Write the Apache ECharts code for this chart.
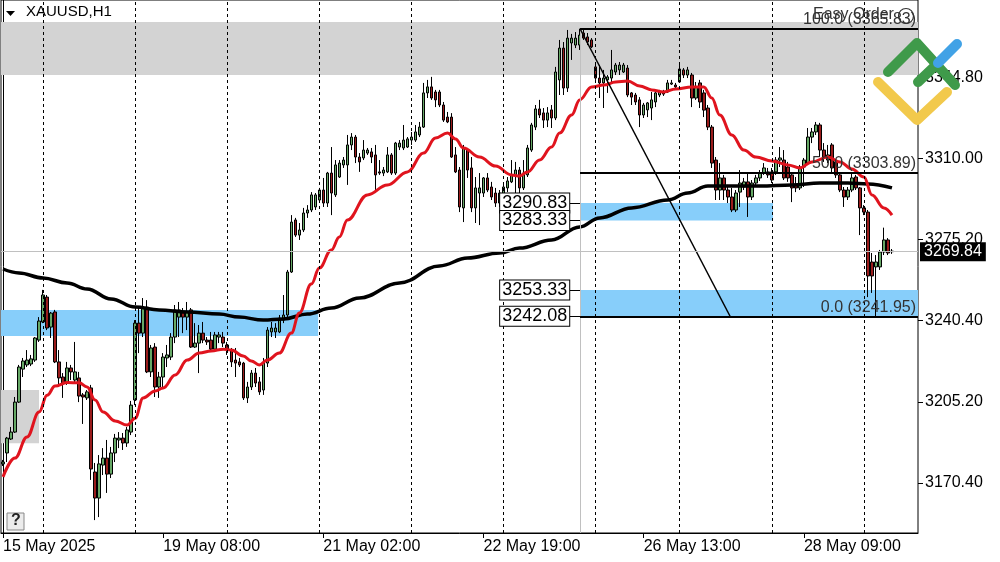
<!DOCTYPE html>
<html><head><meta charset="utf-8">
<script src="https://cdn.jsdelivr.net/npm/echarts@6/dist/echarts.min.js"></script>
<style>html,body{margin:0;padding:0;background:#fff}#c{width:1000px;height:562px}</style>
</head><body><div id="c"></div>
<script>
// ---- DATA (XAUUSD H1, [open, close, low, high]) ----
const candles = [
[3178.5,3179.3,3177.6,3180.2],[3183.2,3189.6,3179.3,3190.1],[3189.2,3192.2,3188.8,3194.4],[3192.2,3205.1,3191.8,3207.3],[3205.1,3220.2,3204.7,3221.1],
[3219.3,3222.8,3215.9,3224.1],[3221.1,3223.2,3220.2,3227.5],[3221.5,3223.7,3220.6,3225.4],[3223.2,3232.7,3222.4,3233.1],[3231.8,3240.0,3231.0,3241.7],
[3239.6,3251.2,3239.1,3253.4],[3250.3,3237.0,3236.1,3251.2],[3237.4,3243.4,3232.7,3243.9],[3243.9,3222.4,3221.9,3244.8],[3222.4,3215.5,3211.6,3227.5],
[3215.9,3213.3,3206.9,3217.6],[3213.3,3219.8,3212.5,3222.4],[3219.8,3218.1,3214.6,3221.1],[3214.6,3218.1,3213.3,3231.0],[3215.5,3207.7,3205.1,3218.1],
[3208.2,3207.3,3195.7,3209.0],[3206.9,3209.5,3206.0,3210.3],[3211.2,3176.3,3171.6,3212.5],[3175.0,3163.8,3154.3,3178.9],[3163.8,3178.5,3155.6,3182.3],
[3178.0,3181.0,3173.7,3185.3],[3181.0,3174.1,3166.0,3188.8],[3174.1,3183.2,3172.4,3185.8],[3183.2,3189.6,3179.3,3191.4],[3188.8,3189.6,3185.3,3192.2],
[3189.6,3187.5,3184.5,3191.8],[3187.5,3193.1,3185.8,3194.4],[3192.2,3203.8,3190.9,3205.6],[3206.0,3239.1,3203.8,3240.4],[3239.1,3234.8,3226.2,3245.6],
[3234.8,3245.6,3233.1,3249.9],[3246.0,3218.1,3217.6,3249.0],[3218.1,3228.4,3215.9,3229.7],[3228.8,3211.6,3207.3,3230.5],[3211.6,3215.9,3206.9,3218.1],
[3215.9,3224.5,3211.6,3226.2],[3224.1,3225.4,3220.2,3229.7],[3224.5,3233.1,3223.2,3234.8],[3233.1,3244.8,3230.5,3246.9],[3241.7,3244.8,3233.1,3248.2],
[3243.5,3241.7,3234.8,3245.6],[3241.7,3243.9,3236.1,3248.2],[3244.8,3228.8,3228.4,3245.6],[3228.8,3230.5,3228.4,3239.1],[3230.5,3234.8,3217.6,3238.3],
[3234.8,3231.8,3230.5,3239.6],[3231.8,3231.0,3229.7,3233.1],[3231.8,3227.9,3227.5,3235.3],[3227.9,3234.0,3226.7,3235.3],[3233.1,3234.0,3230.5,3235.3],
[3233.1,3230.5,3228.8,3235.3],[3229.7,3227.9,3225.4,3231.0],[3227.5,3222.4,3220.2,3228.4],[3223.2,3221.9,3215.9,3228.4],[3222.4,3221.1,3220.2,3224.1],
[3221.9,3206.9,3206.0,3222.4],[3206.9,3211.6,3204.7,3213.8],[3211.6,3217.6,3210.3,3218.9],[3217.6,3213.3,3211.6,3219.8],[3213.8,3209.5,3208.2,3215.9],
[3210.3,3221.9,3208.2,3224.1],[3221.9,3236.1,3220.2,3237.4],[3235.3,3237.0,3233.1,3239.6],[3235.3,3237.0,3232.7,3239.1],[3235.3,3241.3,3234.8,3242.6],
[3240.4,3242.6,3239.1,3251.2],[3242.6,3261.1,3241.7,3262.0],[3261.1,3282.6,3260.7,3285.6],[3283.5,3277.0,3276.2,3284.4],[3277.0,3279.2,3274.9,3282.2],
[3279.2,3286.5,3278.3,3288.7],[3286.5,3287.8,3284.4,3289.9],[3287.8,3294.3,3286.9,3295.5],[3289.1,3294.3,3287.8,3295.1],[3292.1,3296.4,3291.2,3297.3],
[3296.4,3290.8,3289.1,3301.6],[3290.8,3303.7,3289.1,3304.2],[3303.7,3295.1,3285.6,3314.9],[3294.3,3307.2,3293.4,3309.3],[3302.0,3308.0,3301.6,3309.3],
[3307.2,3309.3,3305.9,3310.6],[3307.2,3315.8,3298.6,3320.1],[3315.8,3319.2,3313.6,3320.9],[3319.2,3310.6,3308.0,3320.1],[3310.6,3308.5,3304.2,3312.3],
[3310.2,3313.6,3309.3,3317.9],[3312.3,3313.6,3311.5,3314.5],[3312.8,3310.6,3308.0,3314.5],[3311.5,3302.9,3295.1,3315.8],[3304.2,3303.7,3302.9,3309.3],
[3303.7,3305.0,3302.4,3306.3],[3304.2,3311.5,3303.7,3314.9],[3311.5,3303.7,3302.9,3312.3],[3303.7,3316.6,3302.9,3317.1],[3314.9,3316.6,3313.6,3317.9],
[3314.5,3317.9,3313.6,3324.4],[3314.9,3318.4,3314.5,3319.2],[3317.9,3319.2,3315.8,3321.4],[3317.9,3321.4,3317.1,3324.4],[3320.1,3323.5,3319.2,3325.7],
[3323.5,3338.2,3323.1,3342.5],[3338.2,3340.8,3336.0,3343.8],[3340.8,3336.0,3335.2,3345.1],[3338.6,3335.2,3332.1,3339.5],[3338.6,3333.0,3332.1,3339.5],
[3333.0,3326.5,3325.7,3334.3],[3327.8,3325.7,3325.2,3330.0],[3327.8,3310.6,3310.2,3329.5],[3311.5,3304.2,3303.7,3314.9],[3305.0,3289.1,3286.9,3306.3],
[3288.7,3314.5,3282.6,3315.8],[3313.6,3305.0,3301.6,3314.5],[3305.9,3288.7,3286.9,3310.6],[3288.7,3297.3,3282.2,3302.0],[3295.1,3297.3,3281.3,3303.7],
[3295.1,3301.6,3293.4,3302.0],[3301.6,3296.4,3295.5,3303.7],[3297.7,3293.4,3292.1,3299.9],[3295.1,3290.8,3289.1,3297.3],[3290.8,3295.1,3289.1,3296.4],
[3294.3,3297.7,3293.4,3299.4],[3297.3,3300.3,3295.5,3302.0],[3299.9,3302.9,3299.4,3309.3],[3302.9,3305.0,3286.9,3308.5],[3305.0,3297.3,3287.8,3306.3],
[3297.3,3303.7,3296.4,3309.3],[3302.9,3314.5,3302.0,3315.8],[3313.6,3324.4,3312.8,3325.3],[3323.5,3331.3,3322.2,3333.0],[3331.3,3328.7,3327.4,3335.2],
[3329.6,3326.5,3323.1,3331.7],[3326.5,3329.6,3323.5,3332.1],[3330.9,3327.4,3323.1,3333.0],[3327.4,3347.2,3326.5,3349.4],[3343.8,3357.5,3337.3,3361.0],
[3357.5,3340.3,3337.3,3360.1],[3340.3,3361.8,3338.6,3365.3],[3359.7,3361.8,3352.4,3363.6],[3358.8,3361.8,3357.5,3364.4],[3358.8,3363.1,3356.7,3365.83],
[3364.0,3361.8,3361.0,3365.7],[3362.3,3360.1,3358.8,3364.0],[3361.0,3358.0,3357.5,3361.8],[3349.4,3344.6,3343.8,3351.1],[3344.6,3342.5,3336.0,3350.2],
[3342.5,3344.6,3331.7,3348.1],[3343.8,3345.1,3338.2,3345.9],[3344.6,3348.1,3342.5,3356.7],[3347.2,3350.2,3345.9,3351.1],[3348.1,3350.2,3345.9,3351.5],
[3347.2,3350.2,3346.8,3351.1],[3348.9,3337.3,3336.4,3350.2],[3338.2,3336.4,3333.0,3338.6],[3337.3,3334.3,3333.0,3338.2],[3335.2,3328.7,3323.5,3336.4],
[3328.7,3333.0,3327.4,3333.9],[3330.9,3333.9,3327.8,3334.3],[3331.7,3335.2,3326.5,3338.6],[3334.3,3338.2,3332.1,3338.6],[3337.3,3338.6,3336.4,3339.5],
[3338.6,3337.7,3336.9,3339.5],[3338.6,3342.5,3338.2,3343.8],[3342.0,3342.5,3341.6,3343.8],[3341.6,3340.8,3340.3,3342.5],[3342.9,3348.5,3342.5,3350.2],
[3348.1,3345.9,3344.6,3348.9],[3345.9,3348.1,3344.6,3349.4],[3345.9,3336.0,3332.1,3346.8],[3336.0,3340.8,3335.2,3342.9],[3342.5,3334.3,3331.7,3343.8],
[3338.2,3330.8,3327.8,3339.5],[3331.7,3323.5,3322.2,3333.0],[3323.5,3308.0,3305.9,3324.4],[3309.3,3296.4,3292.1,3310.6],[3296.4,3301.6,3292.1,3308.0],
[3301.6,3296.4,3292.1,3302.9],[3296.4,3293.4,3290.8,3298.6],[3293.4,3287.8,3286.9,3297.3],[3287.8,3295.1,3286.9,3296.4],[3295.5,3299.4,3289.1,3305.0],
[3297.7,3299.9,3296.4,3301.6],[3299.9,3293.4,3284.8,3303.7],[3293.4,3299.4,3292.1,3300.7],[3299.4,3301.6,3298.1,3302.9],[3301.6,3303.7,3300.3,3305.0],
[3303.7,3305.9,3302.9,3308.0],[3304.2,3302.9,3301.6,3305.9],[3304.2,3300.7,3299.4,3305.9],[3304.2,3309.3,3302.9,3310.6],[3309.3,3310.2,3306.3,3314.9],
[3309.3,3301.6,3300.7,3313.6],[3306.3,3301.6,3299.9,3308.5],[3302.9,3297.3,3291.2,3303.7],[3298.6,3297.3,3295.5,3302.0],[3297.3,3306.3,3296.4,3307.2],
[3306.3,3309.3,3297.7,3310.2],[3308.0,3319.2,3307.2,3323.1],[3319.2,3321.4,3316.6,3323.1],[3321.4,3324.4,3320.1,3325.7],[3324.4,3313.6,3310.6,3325.3],
[3313.6,3310.6,3308.5,3316.6],[3309.3,3311.5,3308.0,3315.8],[3315.8,3305.9,3303.7,3316.6],[3308.5,3302.9,3301.6,3309.3],[3302.9,3296.4,3295.5,3303.7],
[3296.4,3293.4,3289.1,3297.7],[3293.4,3296.4,3292.1,3297.7],[3296.4,3301.6,3295.5,3303.7],[3302.0,3297.3,3296.4,3302.9],[3297.3,3288.7,3277.0,3297.7],
[3288.7,3286.9,3285.6,3289.9],[3286.9,3259.4,3250.3,3287.8],[3265.4,3259.4,3252.1,3269.3],[3263.3,3265.4,3241.95,3268.4],[3263.3,3269.7,3262.0,3270.6],
[3269.7,3274.9,3268.4,3280.2],[3274.9,3269.3,3268.4,3275.7],[3270.1,3269.84,3268.9,3271.0]
];
// moving averages: [bar index, price]
const maFast = [[0,3172.9],[3,3181.0],[6,3190.1],[9,3200.8],[11,3208.0],[13,3212.0],[16,3213.5],[19,3213.4],[21,3211.6],[23,3206.0],[25,3200.8],[28,3197.0],[31,3195.2],[33,3198.2],[35,3206.9],[38,3209.9],[40,3211.2],[43,3216.8],[46,3223.2],[49,3226.2],[52,3227.1],[55,3227.9],[57,3227.5],[60,3225.0],[62,3222.8],[64,3221.1],[66,3223.2],[69,3226.2],[72,3234.8],[74,3243.5],[77,3255.9],[79,3262.8],[82,3270.6],[84,3276.2],[86,3283.5],[91,3294.3],[96,3298.6],[101,3304.2],[105,3312.3],[108,3318.8],[111,3320.9],[113,3318.4],[115,3314.5],[119,3310.6],[123,3306.7],[127,3302.9],[129,3302.4],[131,3304.2],[134,3309.3],[137,3314.9],[139,3320.9],[142,3328.7],[144,3335.2],[147,3340.8],[150,3341.6],[153,3342.9],[156,3343.3],[159,3341.2],[162,3339.5],[165,3338.6],[168,3339.9],[172,3340.8],[175,3340.8],[177,3336.0],[179,3328.7],[182,3320.1],[185,3313.6],[188,3310.6],[192,3308.9],[196,3307.2],[199,3305.9],[202,3308.5],[206,3310.6],[209,3308.5],[212,3305.5],[215,3302.0],[217,3294.3],[220,3288.7],[222,3285.6]];
const maSlow = [[0,3262.4],[4,3260.7],[10,3258.5],[16,3256.4],[21,3253.8],[27,3249.5],[33,3246.0],[39,3244.8],[46,3243.9],[54,3243.0],[59,3241.7],[65,3240.4],[70,3240.9],[76,3243.0],[82,3245.6],[89,3249.9],[99,3256.4],[109,3263.7],[116,3267.1],[124,3269.3],[129,3271.4],[137,3274.9],[144,3280.5],[149,3284.4],[157,3288.7],[166,3292.1],[171,3295.1],[176,3298.1],[182,3298.1],[189,3298.1],[197,3298.6],[204,3299.4],[211,3299.4],[216,3299.0],[222,3297.3]];
const tickBars = [0,40,80,120,160,200];
const tickTexts = ['15 May 2025','19 May 08:00','21 May 02:00','22 May 19:00','26 May 13:00','28 May 09:00'];
const priceTicks = [3170.40,3205.20,3240.40,3275.20,3310.00,3344.80];
const daySeparators = [10,33,56,79,102,125,148,169,192,215];
const fibNames = ['100.0','50.0','0.0'];
const fibPrices = [3365.83,3303.89,3241.95];
const zoneLabels = [3290.83,3283.33,3253.33,3242.08];
const lastPrice = 3269.84;
const slotCount = 229;
const fibFromBar = 144.1, fibToBar = 181.6, boxTickBar = 141.4;
// zones: [fromBar, toBar, lowPrice, highPrice]
const grayZones = [[-0.5,228.5,3345.9,3368.7],[-0.5,9.0,3187.4,3210.3]];
const blueZones = [[-0.5,78.7,3233.6,3244.7],[144.1,192.3,3283.33,3290.83],[144.1,228.5,3242.08,3253.33]];
const yMin = 3148.75, yMax = 3378.2;

const font = '"Liberation Sans", Arial, sans-serif';
const chart = echarts.init(document.getElementById('c'));
const categories = Array.from({length: slotCount}, (_, i) => String(i));
const zoneData = (zs) => zs.map(z => [{coord:[z[0], z[3]]}, {coord:[z[1], z[2]]}]);
const base = {type:'line', xAxisIndex:1, data:[], silent:true};
const option = {
  animation:false,
  textStyle:{fontFamily:font},
  grid:{left:1,right:82,top:0,bottom:29,show:true,borderColor:'#000',borderWidth:1,backgroundColor:'#fff'},
  xAxis:[
    {type:'category', data:categories, boundaryGap:true,
     axisLine:{lineStyle:{color:'#000'}},
     axisTick:{show:true, alignWithLabel:true, interval:(i)=>tickBars.includes(i), length:5, lineStyle:{color:'#000'}},
     axisLabel:{interval:(i)=>tickBars.includes(i), formatter:(v)=>tickTexts[tickBars.indexOf(+v)]||'', align:'left', color:'#000', fontSize:16, fontFamily:font, margin:6},
     splitLine:{show:false}},
    {type:'value', min:-0.5, max:slotCount-0.5, show:false}
  ],
  yAxis:{type:'value', position:'right', min:yMin, max:yMax,
    axisLine:{show:true,lineStyle:{color:'#000'}},
    axisTick:{show:false},
    axisLabel:{customValues:priceTicks, formatter:v=>v.toFixed(2), color:'#000', fontSize:16, fontFamily:font, margin:7},
    splitLine:{show:false}},
  series:[
    Object.assign({}, base, {z:1, markArea:{silent:true, itemStyle:{color:'#d3d3d3'}, data:zoneData(grayZones)}}),
    Object.assign({}, base, {z:1, markArea:{silent:true, itemStyle:{color:'#87cefa'}, data:zoneData(blueZones)}}),
    Object.assign({}, base, {z:2, markLine:{silent:true, symbol:['none','none'], label:{show:false},
      lineStyle:{color:'#000', width:1, type:[3,3]}, data:daySeparators.map(b=>({xAxis:b}))}}),
    Object.assign({}, base, {z:2, markLine:{silent:true, symbol:['none','none'], label:{show:false},
      lineStyle:{color:'#c0c0c0', width:1, type:'solid'},
      data:[[{coord:[fibFromBar, fibPrices[0]]},{coord:[fibFromBar, yMin]}]]}}),
    {type:'candlestick', xAxisIndex:0, data:candles, barWidth:3, z:3, silent:true,
     itemStyle:{color:'#66a866', color0:'#9a1c1c', borderColor:'#000', borderColor0:'#000', borderWidth:1}},
    {type:'line', xAxisIndex:1, data:maSlow, smooth:0.4, smoothMonotone:'x', showSymbol:false, z:4, silent:true,
     lineStyle:{color:'#000', width:3.5}},
    {type:'line', xAxisIndex:1, data:maFast, smooth:0.4, smoothMonotone:'x', showSymbol:false, z:4, silent:true,
     lineStyle:{color:'#e0141e', width:3}},
    Object.assign({}, base, {z:5, markLine:{silent:true, symbol:['none','none'],
      lineStyle:{color:'#000', width:2, type:'solid'},
      label:{show:true, position:'insideEndTop', color:'#333', fontSize:16, fontFamily:font, distance:[2,1]},
      data:fibPrices.map((p,k)=>[{coord:[fibFromBar,p], label:{formatter:fibNames[k]+' ('+p.toFixed(2)+')'}},{coord:[slotCount-0.5,p]}])
        .concat([[{coord:[fibFromBar,fibPrices[0]], lineStyle:{width:1.5}, label:{show:false}},{coord:[fibToBar,fibPrices[2]]}]])}}),
    Object.assign({}, base, {z:6, markLine:{silent:true, symbol:['none','none'],
      lineStyle:{color:'#000', width:1, type:'solid'},
      label:{show:true, position:'start', distance:0, color:'#000', fontSize:18, fontFamily:font,
        backgroundColor:'#fff', borderColor:'#000', borderWidth:1, padding:[1,2,0,2]},
      data:zoneLabels.map(p=>[{coord:[boxTickBar,p], label:{formatter:p.toFixed(2)}},{coord:[fibFromBar,p]}])}}),
    Object.assign({}, base, {z:6, markLine:{silent:true, symbol:['none','none'],
      lineStyle:{color:'#c0c0c0', width:1, type:'solid'},
      label:{show:true, position:'end', distance:2, color:'#fff', backgroundColor:'#000', fontSize:16, fontFamily:font, padding:[2,4,1,4],
        formatter:lastPrice.toFixed(2)},
      data:[{yAxis:lastPrice}]}})
  ],
  graphic:[
    {type:'polygon', z:100, shape:{points:[[6,11],[15,11],[10.5,16]]}, style:{fill:'#000'}},
    {type:'text', z:100, left:26, top:4, style:{text:'XAUUSD,H1', font:'15px '+font, fill:'#000'}},
    {type:'text', z:100, left:813, top:7, style:{text:'Easy Order', font:'16px '+font, fill:'#333'}},
    {type:'circle', z:100, shape:{cx:906, cy:16, r:7.5}, style:{fill:'none', stroke:'#333', lineWidth:1.2}},
    {type:'rect', z:100, shape:{x:7, y:513, width:17, height:17}, style:{fill:'#ececec', stroke:'#888', lineWidth:1}},
    {type:'text', z:101, left:11, top:513, style:{text:'?', font:'bold 16px '+font, fill:'#222'}},
    {type:'polyline', z:110, shape:{points:[[878,82],[917,120],[947,92]]}, style:{stroke:'#f2c94c', lineWidth:10, lineCap:'round', lineJoin:'round', fill:'none'}},
    {type:'polyline', z:111, shape:{points:[[888,72],[917,43],[955,85]]}, style:{stroke:'#3f9a4a', lineWidth:10, lineCap:'round', lineJoin:'round', fill:'none'}},
    {type:'line', z:111, shape:{x1:918, y1:82, x2:938, y2:63}, style:{stroke:'#3f9a4a', lineWidth:10, lineCap:'round'}},
    {type:'line', z:112, shape:{x1:938, y1:63, x2:957, y2:44}, style:{stroke:'#41a2e6', lineWidth:10, lineCap:'round'}}
  ]
};
chart.setOption(option);
// price-axis tick marks placed at the label values through the axis scale
const axisX = chart.convertToPixel({xAxisIndex:1}, slotCount-0.5);
chart.setOption({graphic: option.graphic.concat(priceTicks.map(p => {
  const y = Math.round(chart.convertToPixel({yAxisIndex:0}, p)) + 0.5;
  return {type:'line', z:50, shape:{x1:axisX, y1:y, x2:axisX+5, y2:y}, style:{stroke:'#000', lineWidth:1}};
}))});
</script>
</body></html>
